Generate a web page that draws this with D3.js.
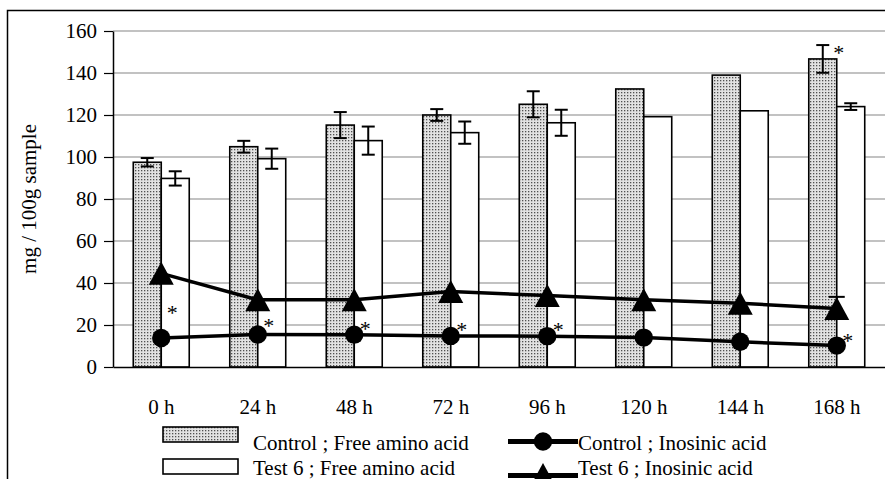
<!DOCTYPE html>
<html>
<head>
<meta charset="utf-8">
<script src="https://cdn.jsdelivr.net/npm/d3@7"></script>
<style>
  body { margin: 0; background: #fff; }
  svg text { font-family: "Liberation Serif", "DejaVu Serif", serif; fill: #000; }
</style>
</head>
<body>
<svg id="chart" width="885" height="479"></svg>
<script>
// hours after start
const categories = ['0 h', '24 h', '48 h', '72 h', '96 h', '120 h', '144 h', '168 h'];
// free amino acid (bars), mg / 100g
const controlFree = [97.5, 104.9, 115.2, 120, 125.1, 132.4, 139, 146.7];
const controlFreeErr = [2, 2.8, 6.2, 2.8, 6.2, 0, 0, 6.6];
const testFree = [89.8, 99.2, 107.8, 111.6, 116.3, 119.2, 122, 124];
const testFreeErr = [3.4, 4.8, 6.7, 5.3, 6.2, 0, 0, 1.6];
// inosinic acid (lines)
const controlIno = [13.8, 15.5, 15.4, 14.8, 14.7, 14, 12, 10.2];
const testIno = [44.6, 32, 32, 36, 34, 32, 30.3, 27.9];
const testInoErr = [0, 0, 0, 0, 0, 0, 0, 5.5];
// significance marks (value where the * sits)
const inoStars = [27, 21, 19.5, 19.2, 19.2, null, null, 13.8];
const freeStars = [null, null, null, null, null, null, null, 151];
const yTicks = [0, 20, 40, 60, 80, 100, 120, 140, 160];

const FONT = '"Liberation Serif", "DejaVu Serif", serif';

const svg = d3.select('#chart');
const margin = {top: 31, right: 0, bottom: 112, left: 113};
const width = 885 - margin.left - margin.right;
const height = 479 - margin.top - margin.bottom;

// outer frame (runs off the picture on the right and bottom)
svg.append('rect')
  .attr('x', 7.5).attr('y', 10.5)
  .attr('width', 900).attr('height', 500)
  .attr('fill', 'none').attr('stroke', '#000').attr('stroke-width', 1.5);

const defs = svg.append('defs');
const pat = defs.append('pattern')
  .attr('id', 'stipple')
  .attr('patternUnits', 'userSpaceOnUse')
  .attr('width', 3).attr('height', 3);
pat.append('rect').attr('width', 3).attr('height', 3).attr('fill', '#e2e2e2');
pat.append('rect').attr('x', 1).attr('y', 1).attr('width', 1.3).attr('height', 1.3).attr('fill', '#505050');

const g = svg.append('g')
  .attr('transform', `translate(${margin.left},${margin.top})`);

const x = d3.scaleBand().domain(categories).range([0, width]);
const y = d3.scaleLinear().domain([0, 160]).range([height, 0]);
const groupW = x.bandwidth() * 0.58;
const x1 = d3.scaleBand().domain(['control', 'test']).range([-groupW / 2, groupW / 2]);
const cx = d => x(d) + x.bandwidth() / 2;

// gridlines
g.append('g')
  .selectAll('line')
  .data(yTicks.filter(t => t > 0))
  .enter().append('line')
    .attr('x1', 0).attr('x2', width)
    .attr('y1', d => y(d)).attr('y2', d => y(d))
    .attr('stroke', '#858585').attr('stroke-width', 1.2);

// bars
const series = [
  {key: 'control', values: controlFree, err: controlFreeErr, fill: 'url(#stipple)'},
  {key: 'test', values: testFree, err: testFreeErr, fill: '#fff'}
];

series.forEach(s => {
  g.append('g')
    .selectAll('rect')
    .data(s.values)
    .enter().append('rect')
      .attr('x', (d, i) => cx(categories[i]) + x1(s.key))
      .attr('width', x1.bandwidth())
      .attr('y', d => y(d))
      .attr('height', d => height - y(d))
      .attr('fill', s.fill)
      .attr('stroke', '#000')
      .attr('stroke-width', 1.6);
});

// error bars on bars
series.forEach(s => {
  const eg = g.append('g').attr('stroke', '#000').attr('stroke-width', 2);
  s.values.forEach((v, i) => {
    const e = s.err[i];
    if (!e) return;
    const mx = cx(categories[i]) + x1(s.key) + x1.bandwidth() / 2;
    eg.append('line').attr('x1', mx).attr('x2', mx).attr('y1', y(v + e)).attr('y2', y(v - e));
    eg.append('line').attr('x1', mx - 6.5).attr('x2', mx + 6.5).attr('y1', y(v + e)).attr('y2', y(v + e));
    eg.append('line').attr('x1', mx - 6.5).attr('x2', mx + 6.5).attr('y1', y(v - e)).attr('y2', y(v - e));
  });
});

// axes
const yAxis = g.append('g')
  .call(d3.axisLeft(y).tickValues(yTicks).tickSize(9).tickSizeOuter(0).tickPadding(7))
  .attr('font-family', FONT).attr('font-size', 21);
yAxis.select('.domain').attr('stroke', '#000').attr('stroke-width', 1.5);
yAxis.selectAll('.tick line').attr('stroke', '#000').attr('stroke-width', 1.2);

const xAxis = g.append('g')
  .attr('transform', `translate(0,${height})`)
  .call(d3.axisBottom(x).tickSize(0).tickSizeOuter(0).tickPadding(32))
  .attr('font-family', FONT).attr('font-size', 21);
xAxis.select('.domain').attr('stroke', '#000').attr('stroke-width', 1.5);

// inosinic acid lines
const line = d3.line()
  .x((d, i) => cx(categories[i]))
  .y(d => y(d));

// test 6 error bar (only the cap shows above the marker)
testIno.forEach((v, i) => {
  const e = testInoErr[i];
  if (!e) return;
  const mx = cx(categories[i]);
  g.append('line').attr('x1', mx).attr('x2', mx).attr('y1', y(v + e)).attr('y2', y(v))
    .attr('stroke', '#000').attr('stroke-width', 2);
  g.append('line').attr('x1', mx - 8).attr('x2', mx + 8).attr('y1', y(v + e)).attr('y2', y(v + e))
    .attr('stroke', '#000').attr('stroke-width', 2);
});

g.append('path').datum(testIno)
  .attr('d', line).attr('fill', 'none').attr('stroke', '#000').attr('stroke-width', 3.5);
g.append('path').datum(controlIno)
  .attr('d', line).attr('fill', 'none').attr('stroke', '#000').attr('stroke-width', 3.5);

const tri = 'M0,-11.5L12.5,11.5L-12.5,11.5Z';

g.append('g')
  .selectAll('path')
  .data(testIno)
  .enter().append('path')
    .attr('d', tri)
    .attr('transform', (d, i) => `translate(${cx(categories[i])},${y(d)})`)
    .attr('fill', '#000');

g.append('g')
  .selectAll('circle')
  .data(controlIno)
  .enter().append('circle')
    .attr('cx', (d, i) => cx(categories[i]))
    .attr('cy', d => y(d))
    .attr('r', 9.2)
    .attr('fill', '#000');

// asterisks
const star = (vx, vy) => g.append('text')
  .attr('x', vx).attr('y', vy).attr('dy', '0.45em')
  .attr('text-anchor', 'middle')
  .attr('font-family', FONT)
  .attr('font-size', 22)
  .text('*');

inoStars.forEach((v, i) => { if (v != null) star(cx(categories[i]) + 11, y(v)); });
freeStars.forEach((v, i) => {
  if (v != null) star(cx(categories[i]) + x1('control') + x1.bandwidth() / 2 + 16, y(v));
});

// legend
const legend = svg.append('g').attr('font-family', FONT).attr('font-size', 21);
const rows = [
  {label: 'Control ; Free amino acid', fill: 'url(#stipple)', top: 427, base: 450},
  {label: 'Test 6 ; Free amino acid', fill: '#fff', top: 459, base: 475}
];
rows.forEach(r => {
  legend.append('rect')
    .attr('x', 163).attr('y', r.top).attr('width', 75).attr('height', 15)
    .attr('fill', r.fill).attr('stroke', '#000').attr('stroke-width', 1.6);
  legend.append('text').attr('x', 253).attr('y', r.base).text(r.label);
});

const lineRows = [
  {label: 'Control ; Inosinic acid', marker: 'circle', ly: 441.5, base: 450},
  {label: 'Test 6 ; Inosinic acid', marker: 'tri', ly: 475.5, base: 475}
];
lineRows.forEach(r => {
  legend.append('line')
    .attr('x1', 508).attr('x2', 578).attr('y1', r.ly).attr('y2', r.ly)
    .attr('stroke', '#000').attr('stroke-width', 5);
  if (r.marker === 'circle') {
    legend.append('circle').attr('cx', 543).attr('cy', r.ly).attr('r', 9.2).attr('fill', '#000');
  } else {
    legend.append('path').attr('d', tri)
      .attr('transform', `translate(543,${r.ly - 1})`).attr('fill', '#000');
  }
  legend.append('text').attr('x', 578).attr('y', r.base).text(r.label);
});

// y axis title
svg.append('text')
  .attr('transform', `translate(36,${margin.top + height / 2}) rotate(-90)`)
  .attr('text-anchor', 'middle')
  .attr('font-family', FONT)
  .attr('font-size', 21)
  .text('mg / 100g sample');
</script>
</body>
</html>
